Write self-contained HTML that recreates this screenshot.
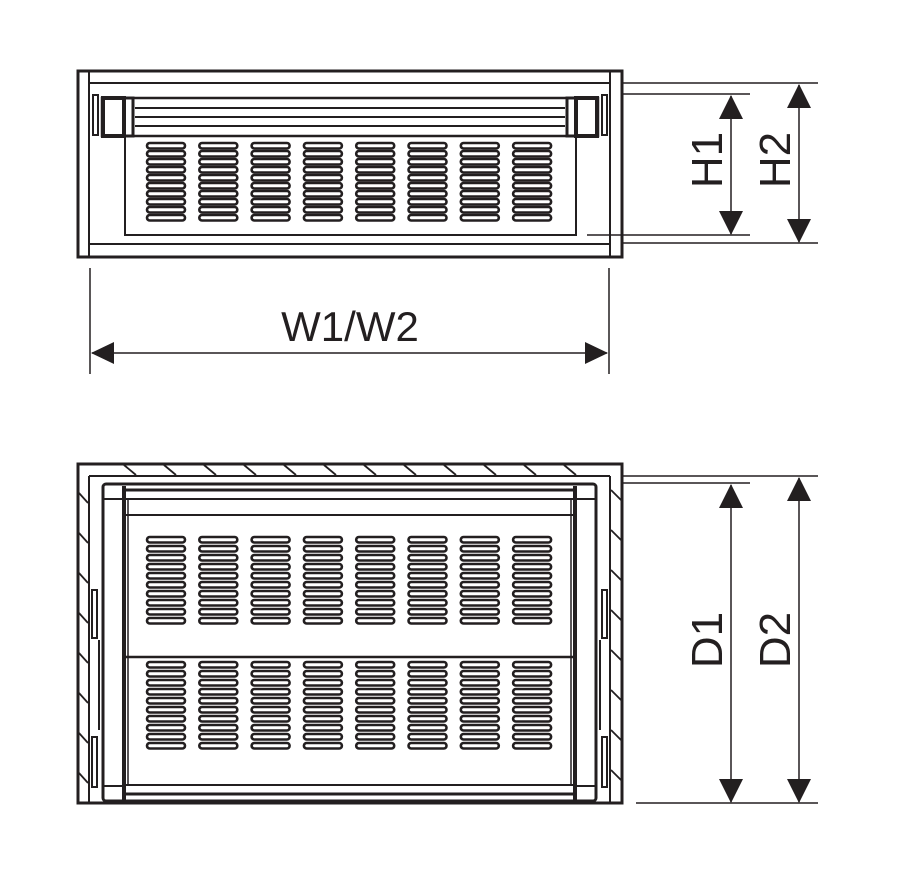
<!DOCTYPE html>
<html><head><meta charset="utf-8"><style>
html,body{margin:0;padding:0;background:#fff;}
svg{display:block;}
text{font-family:"Liberation Sans",sans-serif;fill:#231f20;}
</style></head><body>
<svg width="900" height="873" viewBox="0 0 900 873" xmlns="http://www.w3.org/2000/svg">
<defs>
<rect id="s" x="0" y="0" width="38" height="5.5" rx="2.7" fill="#fff" stroke="#231f20" stroke-width="2.6"/>
<g id="colT"><use href="#s" y="0"/><use href="#s" y="8"/><use href="#s" y="16"/><use href="#s" y="24"/><use href="#s" y="32"/><use href="#s" y="40"/><use href="#s" y="48"/><use href="#s" y="56"/><use href="#s" y="64"/><use href="#s" y="72"/></g>
<g id="colB"><use href="#s" y="0"/><use href="#s" y="9"/><use href="#s" y="18"/><use href="#s" y="27"/><use href="#s" y="36"/><use href="#s" y="45"/><use href="#s" y="54"/><use href="#s" y="63"/><use href="#s" y="72"/><use href="#s" y="81"/></g>
<g id="rowT"><use href="#colT" x="0"/><use href="#colT" x="52.3"/><use href="#colT" x="104.6"/><use href="#colT" x="156.9"/><use href="#colT" x="209.2"/><use href="#colT" x="261.5"/><use href="#colT" x="313.8"/><use href="#colT" x="366.1"/></g>
<g id="rowB"><use href="#colB" x="0"/><use href="#colB" x="52.3"/><use href="#colB" x="104.6"/><use href="#colB" x="156.9"/><use href="#colB" x="209.2"/><use href="#colB" x="261.5"/><use href="#colB" x="313.8"/><use href="#colB" x="366.1"/></g>
<path id="au" d="M0,0 L-12,24 L12,24 Z" fill="#231f20"/>
<path id="ad" d="M0,0 L-12,-24 L12,-24 Z" fill="#231f20"/>
</defs>
<g stroke="#231f20" fill="none">
<rect x="78" y="71" width="544" height="186" stroke-width="3"/>
<line x1="89" y1="71" x2="89" y2="257" stroke-width="2"/>
<line x1="610" y1="71" x2="610" y2="257" stroke-width="2"/>
<line x1="89" y1="83" x2="610" y2="83" stroke-width="2"/>
<line x1="89" y1="244" x2="610" y2="244" stroke-width="2"/>
<rect x="102" y="98" width="496" height="38" stroke-width="2.5"/>
<line x1="135" y1="108" x2="565" y2="108" stroke-width="2"/>
<line x1="135" y1="117" x2="565" y2="117" stroke-width="2"/>
<line x1="135" y1="126" x2="565" y2="126" stroke-width="2"/>
<rect x="103" y="98" width="21" height="38" stroke-width="4"/>
<rect x="124" y="98" width="9" height="38" stroke-width="3"/>
<rect x="576" y="98" width="21" height="38" stroke-width="4"/>
<rect x="567" y="98" width="9" height="38" stroke-width="3"/>
<path d="M93,95 h5 v40 h-5 Z" stroke-width="2"/>
<path d="M602,95 h5 v40 h-5 Z" stroke-width="2"/>
<rect x="125" y="136" width="451" height="99" stroke-width="2"/>
</g>
<use href="#rowT" x="147" y="143"/>
<g stroke="#231f20" fill="none">
<line x1="90" y1="268" x2="90" y2="374" stroke-width="1.5"/>
<line x1="609" y1="268" x2="609" y2="374" stroke-width="1.5"/>
<line x1="92" y1="353" x2="607" y2="353" stroke-width="1.5"/>
</g>
<path d="M91,353 L114,342 L114,364 Z" fill="#231f20"/>
<path d="M608,353 L585,342 L585,364 Z" fill="#231f20"/>
<text x="350" y="341" font-size="42" text-anchor="middle">W1/W2</text>
<g stroke="#231f20" stroke-width="1.5">
<line x1="623" y1="83" x2="818" y2="83"/>
<line x1="623" y1="94" x2="750" y2="94"/>
<line x1="587" y1="235" x2="750" y2="235"/>
<line x1="623" y1="243" x2="818" y2="243"/>
<line x1="731" y1="96" x2="731" y2="234"/>
<line x1="799" y1="85" x2="799" y2="242"/>
</g>
<use href="#au" x="731" y="95"/><use href="#ad" x="731" y="235"/>
<use href="#au" x="799" y="84"/><use href="#ad" x="799" y="243"/>
<text transform="translate(722,160) rotate(-90)" font-size="44" text-anchor="middle">H1</text>
<text transform="translate(790,160) rotate(-90)" font-size="44" text-anchor="middle">H2</text>

<g stroke="#231f20" fill="none">
<rect x="78" y="464" width="544" height="339" stroke-width="3"/>
<line x1="89" y1="476" x2="89" y2="803" stroke-width="2"/>
<line x1="610" y1="476" x2="610" y2="803" stroke-width="2"/>
<line x1="89" y1="476" x2="610" y2="476" stroke-width="2"/>
<g stroke-width="1.8">
<line x1="124" y1="465" x2="136" y2="475"/><line x1="164" y1="465" x2="176" y2="475"/><line x1="204" y1="465" x2="216" y2="475"/><line x1="244" y1="465" x2="256" y2="475"/><line x1="284" y1="465" x2="296" y2="475"/><line x1="324" y1="465" x2="336" y2="475"/><line x1="364" y1="465" x2="376" y2="475"/><line x1="404" y1="465" x2="416" y2="475"/><line x1="444" y1="465" x2="456" y2="475"/><line x1="484" y1="465" x2="496" y2="475"/><line x1="524" y1="465" x2="536" y2="475"/><line x1="564" y1="465" x2="576" y2="475"/>
<line x1="79" y1="493" x2="88" y2="503"/><line x1="79" y1="533" x2="88" y2="543"/><line x1="79" y1="573" x2="88" y2="583"/><line x1="79" y1="613" x2="88" y2="623"/><line x1="79" y1="653" x2="88" y2="663"/><line x1="79" y1="693" x2="88" y2="703"/><line x1="79" y1="733" x2="88" y2="743"/><line x1="79" y1="773" x2="88" y2="783"/>
<line x1="611" y1="490" x2="621" y2="500"/><line x1="611" y1="530" x2="621" y2="540"/><line x1="611" y1="570" x2="621" y2="580"/><line x1="611" y1="610" x2="621" y2="620"/><line x1="611" y1="650" x2="621" y2="660"/><line x1="611" y1="690" x2="621" y2="700"/><line x1="611" y1="730" x2="621" y2="740"/><line x1="611" y1="770" x2="621" y2="780"/>
</g>
<rect x="103" y="484" width="493" height="317" rx="3" stroke-width="3"/>
<line x1="124" y1="486" x2="124" y2="800" stroke-width="4"/>
<line x1="575" y1="486" x2="575" y2="800" stroke-width="4"/>
<line x1="103" y1="499" x2="124" y2="499" stroke-width="2"/>
<line x1="575" y1="499" x2="596" y2="499" stroke-width="2"/>
<line x1="103" y1="786" x2="124" y2="786" stroke-width="2"/>
<line x1="575" y1="786" x2="596" y2="786" stroke-width="2"/>
<line x1="126" y1="490" x2="573" y2="490" stroke-width="3"/>
<line x1="126" y1="499" x2="573" y2="499" stroke-width="2"/>
<line x1="126" y1="515" x2="573" y2="515" stroke-width="2"/>
<line x1="126" y1="657" x2="573" y2="657" stroke-width="2.5"/>
<line x1="126" y1="785" x2="573" y2="785" stroke-width="2"/>
<line x1="126" y1="794" x2="573" y2="794" stroke-width="3"/>
<line x1="128" y1="499" x2="128" y2="785" stroke-width="1.5"/>
<line x1="571" y1="499" x2="571" y2="785" stroke-width="1.5"/>
<rect x="92" y="590" width="5" height="48" stroke-width="2"/>
<rect x="92" y="737" width="5" height="50" stroke-width="2"/>
<line x1="99" y1="640" x2="99" y2="730" stroke-width="2"/>
<rect x="602" y="590" width="5" height="48" stroke-width="2"/>
<rect x="602" y="737" width="5" height="50" stroke-width="2"/>
<line x1="600" y1="640" x2="600" y2="730" stroke-width="2"/>
</g>
<use href="#rowB" x="147" y="537"/>
<use href="#rowB" x="147" y="662"/>
<g stroke="#231f20" stroke-width="1.5">
<line x1="623" y1="476" x2="818" y2="476"/>
<line x1="623" y1="483" x2="750" y2="483"/>
<line x1="636" y1="803" x2="818" y2="803"/>
<line x1="731" y1="485" x2="731" y2="802"/>
<line x1="799" y1="478" x2="799" y2="802"/>
</g>
<use href="#au" x="731" y="484"/><use href="#ad" x="731" y="803"/>
<use href="#au" x="799" y="477"/><use href="#ad" x="799" y="803"/>
<text transform="translate(722,640) rotate(-90)" font-size="44" text-anchor="middle">D1</text>
<text transform="translate(790,640) rotate(-90)" font-size="44" text-anchor="middle">D2</text>
</svg>
</body></html>
